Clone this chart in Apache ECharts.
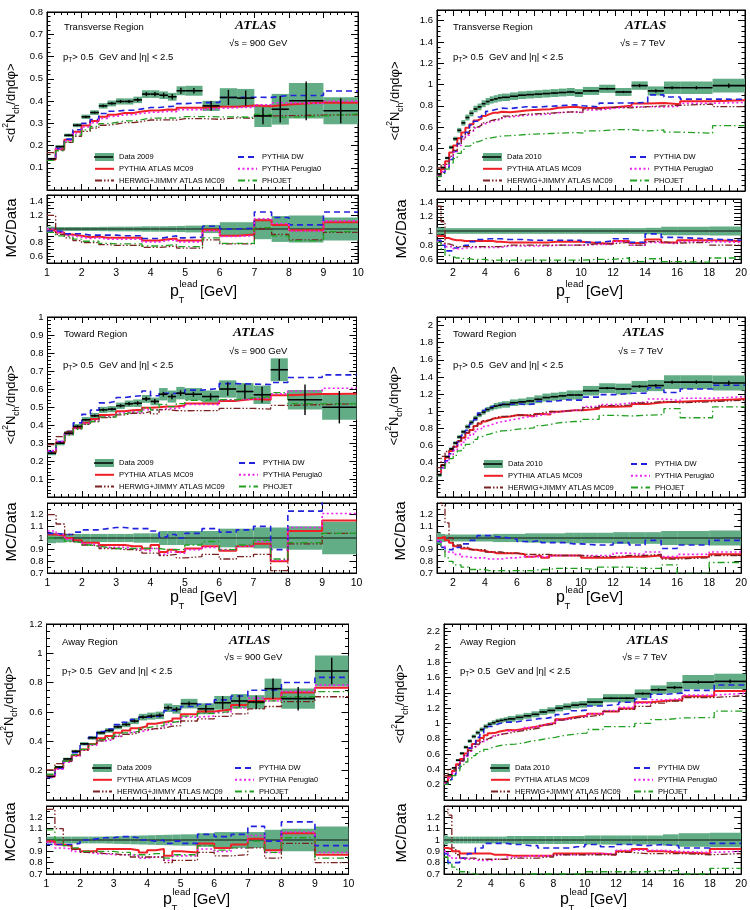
<!DOCTYPE html>
<html>
<head>
<meta charset="utf-8">
<script src="https://cdn.jsdelivr.net/npm/echarts@6/dist/echarts.min.js"></script>
<style>
  html, body { margin: 0; padding: 0; background: #fff; }
  #chart { width: 750px; height: 910px; }
</style>
</head>
<body>
<div id="chart"></div>
<script>
// bin edges (pT lead, GeV)
const edges900 = [1, 1.25, 1.5, 1.75, 2, 2.25, 2.5, 2.75, 3, 3.25, 3.5, 3.75, 4, 4.25, 4.5, 4.75, 5, 5.5, 6, 6.5, 7, 7.5, 8, 9, 10]
const edges7 = [1, 1.25, 1.5, 1.75, 2, 2.25, 2.5, 2.75, 3, 3.25, 3.5, 3.75, 4, 4.25, 4.5, 4.75, 5,
  5.5, 6, 6.5, 7, 7.5, 8, 8.5, 9, 9.5, 10, 11, 12, 13, 14, 15, 16, 18, 20]

// ---- Transverse, 900 GeV ----
const tr900Data = [0.14, 0.195, 0.246, 0.291, 0.329, 0.348, 0.378, 0.389, 0.398, 0.398, 0.405, 0.431, 0.431, 0.426, 0.419, 0.446, 0.446, 0.378, 0.416, 0.413, 0.333, 0.363, 0.401, 0.356]
const tr900Syst = [0.035, 0.03, 0.03, 0.03, 0.03, 0.03, 0.032, 0.034, 0.035, 0.035, 0.036, 0.04, 0.04, 0.04, 0.042, 0.045, 0.05, 0.06, 0.1, 0.1, 0.15, 0.19, 0.2, 0.17]
const tr900Stat = [0.003, 0.003, 0.004, 0.004, 0.005, 0.005, 0.006, 0.006, 0.007, 0.007, 0.008, 0.009, 0.01, 0.011, 0.012, 0.013, 0.012, 0.022, 0.034, 0.034, 0.038, 0.06, 0.087, 0.056]
const tr900MC09 = [0.98, 0.95, 0.92, 0.9, 0.88, 0.89, 0.87, 0.87, 0.87, 0.87, 0.87, 0.83, 0.83, 0.85, 0.86, 0.83, 0.83, 0.99, 0.9, 0.92, 1.13, 1.06, 0.98, 1.1]
const tr900DW = [0.97, 0.96, 0.93, 0.93, 0.91, 0.91, 0.91, 0.91, 0.9, 0.9, 0.9, 0.86, 0.86, 0.88, 0.9, 0.87, 0.88, 1.04, 1.0, 1.01, 1.25, 1.17, 1.06, 1.25]
const tr900Per0 = [1.0, 0.95, 0.9, 0.88, 0.86, 0.87, 0.85, 0.85, 0.85, 0.85, 0.85, 0.81, 0.81, 0.83, 0.84, 0.81, 0.81, 0.97, 0.89, 0.9, 1.15, 1.08, 0.97, 1.12]
const tr900Herwig = [1.2, 0.92, 0.87, 0.83, 0.8, 0.8, 0.77, 0.76, 0.76, 0.76, 0.76, 0.73, 0.73, 0.74, 0.75, 0.72, 0.72, 0.84, 0.78, 0.78, 1.0, 0.92, 0.84, 0.95]
const tr900Phojet = [0.95, 0.9, 0.88, 0.85, 0.82, 0.82, 0.79, 0.78, 0.78, 0.78, 0.78, 0.75, 0.75, 0.76, 0.77, 0.74, 0.74, 0.87, 0.79, 0.79, 1.02, 0.9, 0.83, 0.96]

// ---- Transverse, 7 TeV ----
const tr7Data = [0.16, 0.22, 0.31, 0.41, 0.49, 0.57, 0.64, 0.69, 0.73, 0.77, 0.79, 0.82, 0.84, 0.855, 0.865, 0.875,
  0.88, 0.89, 0.9, 0.905, 0.91, 0.915, 0.92, 0.925, 0.93, 0.92, 0.94, 0.96, 0.93, 0.99, 0.94, 0.97, 0.97, 0.99]
const tr7Syst = [0.05, 0.045, 0.04, 0.04, 0.04, 0.04, 0.04, 0.04, 0.04, 0.04, 0.04, 0.04, 0.04, 0.04, 0.04, 0.04,
  0.04, 0.04, 0.04, 0.04, 0.04, 0.04, 0.04, 0.04, 0.04, 0.04, 0.04, 0.04, 0.04, 0.04, 0.045, 0.06, 0.06, 0.065]
const tr7Stat = [0.002, 0.002, 0.002, 0.002, 0.002, 0.002, 0.002, 0.002, 0.002, 0.002, 0.002, 0.002, 0.002, 0.002, 0.002, 0.002,
  0.003, 0.003, 0.003, 0.003, 0.003, 0.004, 0.004, 0.004, 0.005, 0.005, 0.006, 0.01, 0.01, 0.015, 0.015, 0.015, 0.015, 0.02]
const tr7MC09 = [0.93, 0.93, 0.9, 0.88, 0.87, 0.87, 0.86, 0.86, 0.86, 0.86, 0.86, 0.86, 0.86, 0.86, 0.85, 0.85,
  0.84, 0.84, 0.84, 0.84, 0.84, 0.84, 0.85, 0.85, 0.85, 0.85, 0.83, 0.82, 0.86, 0.83, 0.88, 0.84, 0.87, 0.86]
const tr7DW = [0.87, 0.8, 0.72, 0.72, 0.76, 0.78, 0.8, 0.8, 0.85, 0.85, 0.88, 0.88, 0.89, 0.89, 0.89, 0.89,
  0.88, 0.88, 0.88, 0.87, 0.87, 0.87, 0.87, 0.87, 0.87, 0.87, 0.84, 0.86, 0.89, 0.84, 0.96, 0.91, 0.89, 0.87]
const tr7Per0 = [0.85, 0.82, 0.78, 0.78, 0.75, 0.75, 0.76, 0.76, 0.77, 0.77, 0.77, 0.77, 0.77, 0.77, 0.77, 0.77,
  0.79, 0.79, 0.79, 0.79, 0.79, 0.79, 0.8, 0.8, 0.8, 0.8, 0.81, 0.81, 0.85, 0.8, 0.84, 0.82, 0.85, 0.84]
const tr7Herwig = [1.35, 1.13, 0.82, 0.8, 0.78, 0.78, 0.78, 0.78, 0.78, 0.78, 0.78, 0.78, 0.78, 0.78, 0.78, 0.78,
  0.8, 0.8, 0.8, 0.8, 0.8, 0.8, 0.8, 0.8, 0.8, 0.8, 0.82, 0.82, 0.84, 0.8, 0.85, 0.83, 0.84, 0.8]
const tr7Phojet = [0.84, 0.75, 0.66, 0.64, 0.62, 0.62, 0.61, 0.61, 0.6, 0.6, 0.6, 0.6, 0.59, 0.59, 0.59, 0.59,
  0.59, 0.59, 0.59, 0.59, 0.59, 0.59, 0.59, 0.59, 0.59, 0.59, 0.6, 0.6, 0.62, 0.57, 0.61, 0.57, 0.56, 0.62]

// ---- Toward, 900 GeV ----
const tw900Data = [0.243, 0.299, 0.354, 0.392, 0.429, 0.451, 0.484, 0.488, 0.507, 0.518, 0.521, 0.545, 0.531, 0.571, 0.558, 0.577, 0.571, 0.558, 0.6, 0.586, 0.568, 0.707, 0.54, 0.499]
const tw900Syst = [0.045, 0.04, 0.035, 0.035, 0.035, 0.035, 0.035, 0.035, 0.035, 0.035, 0.04, 0.04, 0.04, 0.06, 0.06, 0.06, 0.06, 0.06, 0.08, 0.08, 0.09, 0.09, 0.1, 0.14]
const tw900Stat = [0.004, 0.004, 0.005, 0.006, 0.006, 0.007, 0.008, 0.008, 0.009, 0.01, 0.011, 0.012, 0.013, 0.013, 0.015, 0.016, 0.014, 0.018, 0.037, 0.04, 0.045, 0.06, 0.085, 0.09]
const tw900MC09 = [1.03, 1.02, 1.0, 0.98, 0.96, 0.96, 0.94, 0.94, 0.94, 0.93, 0.93, 0.91, 0.94, 0.88, 0.9, 0.88, 0.91, 0.93, 0.89, 0.93, 0.95, 0.8, 1.06, 1.15]
const tw900DW = [1.04, 1.03, 1.03, 1.05, 1.07, 1.07, 1.08, 1.09, 1.09, 1.08, 1.08, 1.08, 1.06, 1.01, 1.03, 1.0, 1.04, 1.08, 1.05, 1.07, 1.1, 0.9, 1.23, 1.36]
const tw900Per0 = [1.06, 1.03, 0.99, 0.97, 0.95, 0.94, 0.92, 0.92, 0.92, 0.91, 0.9, 0.89, 0.91, 0.86, 0.88, 0.87, 0.9, 0.92, 0.9, 0.93, 0.97, 0.81, 1.09, 1.21]
const tw900Herwig = [1.2, 1.12, 1.03, 0.97, 0.94, 0.93, 0.91, 0.91, 0.9, 0.9, 0.89, 0.87, 0.87, 0.85, 0.86, 0.83, 0.84, 0.86, 0.82, 0.84, 0.86, 0.72, 0.95, 1.04]
const tw900Phojet = [1.0, 0.99, 0.97, 0.96, 0.94, 0.93, 0.92, 0.91, 0.91, 0.91, 0.91, 0.91, 0.91, 0.9, 0.9, 0.9, 0.94, 0.97, 0.9, 0.94, 0.98, 0.82, 0.96, 1.04]

// ---- Toward, 7 TeV ----
const tw7Data = [0.26, 0.37, 0.47, 0.56, 0.63, 0.7, 0.76, 0.82, 0.87, 0.92, 0.96, 0.99, 1.02, 1.04, 1.06, 1.07,
  1.08, 1.1, 1.11, 1.12, 1.14, 1.16, 1.17, 1.18, 1.19, 1.19, 1.24, 1.27, 1.26, 1.29, 1.3, 1.34, 1.34, 1.33]
const tw7Syst = [0.045, 0.035, 0.03, 0.03, 0.03, 0.03, 0.03, 0.03, 0.03, 0.03, 0.03, 0.03, 0.03, 0.03, 0.035, 0.035,
  0.035, 0.035, 0.035, 0.04, 0.04, 0.04, 0.04, 0.04, 0.045, 0.045, 0.045, 0.045, 0.05, 0.05, 0.05, 0.06, 0.06, 0.065]
const tw7Stat = [0.003, 0.003, 0.003, 0.003, 0.003, 0.003, 0.003, 0.003, 0.003, 0.003, 0.003, 0.003, 0.003, 0.003, 0.003, 0.003,
  0.004, 0.004, 0.004, 0.004, 0.005, 0.005, 0.005, 0.006, 0.006, 0.006, 0.008, 0.012, 0.012, 0.015, 0.018, 0.02, 0.02, 0.025]
const tw7MC09 = [1.0, 1.01, 0.98, 0.96, 0.93, 0.93, 0.91, 0.91, 0.9, 0.9, 0.89, 0.89, 0.88, 0.88, 0.87, 0.87,
  0.87, 0.87, 0.86, 0.84, 0.85, 0.83, 0.85, 0.85, 0.85, 0.85, 0.83, 0.83, 0.84, 0.84, 0.85, 0.83, 0.84, 0.86]
const tw7DW = [0.97, 0.92, 0.9, 0.9, 0.92, 0.92, 0.95, 0.95, 0.98, 0.98, 1.02, 1.02, 1.02, 1.02, 1.01, 1.01,
  1.0, 0.99, 0.97, 0.97, 0.98, 0.96, 0.96, 0.96, 0.95, 0.95, 0.94, 0.94, 0.96, 0.94, 0.98, 0.91, 0.94, 0.98]
const tw7Per0 = [0.98, 0.93, 0.88, 0.88, 0.86, 0.86, 0.84, 0.84, 0.83, 0.83, 0.83, 0.83, 0.82, 0.82, 0.82, 0.82,
  0.83, 0.83, 0.84, 0.84, 0.84, 0.84, 0.85, 0.85, 0.85, 0.85, 0.85, 0.85, 0.87, 0.86, 0.88, 0.84, 0.86, 0.88]
const tw7Herwig = [1.32, 1.28, 1.13, 1.0, 0.94, 0.94, 0.92, 0.92, 0.9, 0.9, 0.9, 0.9, 0.88, 0.88, 0.88, 0.88,
  0.87, 0.87, 0.86, 0.86, 0.86, 0.86, 0.85, 0.85, 0.85, 0.85, 0.84, 0.84, 0.85, 0.85, 0.86, 0.82, 0.83, 0.85]
const tw7Phojet = [0.95, 0.9, 0.83, 0.8, 0.77, 0.77, 0.75, 0.75, 0.73, 0.73, 0.73, 0.73, 0.72, 0.72, 0.72, 0.72,
  0.72, 0.72, 0.72, 0.72, 0.73, 0.73, 0.74, 0.74, 0.74, 0.74, 0.73, 0.75, 0.75, 0.74, 0.74, 0.77, 0.69, 0.79]

// ---- Away, 900 GeV ----
const aw900Data = [0.161, 0.225, 0.28, 0.332, 0.383, 0.424, 0.458, 0.474, 0.499, 0.515, 0.538, 0.565, 0.572, 0.577, 0.629, 0.618, 0.657, 0.622, 0.663, 0.675, 0.668, 0.759, 0.691, 0.88]
const aw900Syst = [0.03, 0.03, 0.03, 0.03, 0.03, 0.03, 0.03, 0.032, 0.034, 0.036, 0.038, 0.04, 0.042, 0.044, 0.046, 0.048, 0.05, 0.06, 0.07, 0.07, 0.07, 0.09, 0.1, 0.12]
const aw900Stat = [0.003, 0.003, 0.004, 0.005, 0.005, 0.006, 0.007, 0.008, 0.008, 0.009, 0.01, 0.011, 0.012, 0.013, 0.014, 0.015, 0.015, 0.025, 0.045, 0.04, 0.045, 0.07, 0.08, 0.09]
const aw900MC09 = [0.99, 0.96, 0.95, 0.92, 0.9, 0.9, 0.92, 0.92, 0.92, 0.92, 0.91, 0.89, 0.91, 0.92, 0.86, 0.9, 0.89, 0.97, 0.93, 0.96, 1.01, 0.91, 1.06, 0.87]
const aw900DW = [0.96, 0.96, 0.96, 0.97, 1.0, 1.01, 1.02, 1.02, 1.03, 1.03, 1.02, 1.0, 0.99, 1.0, 0.97, 0.99, 0.97, 1.05, 1.03, 1.05, 1.12, 0.99, 1.16, 0.95]
const aw900Per0 = [0.98, 0.93, 0.92, 0.9, 0.89, 0.88, 0.88, 0.87, 0.87, 0.87, 0.86, 0.84, 0.85, 0.85, 0.82, 0.86, 0.86, 0.92, 0.9, 0.93, 1.04, 0.89, 1.07, 0.89]
const aw900Herwig = [1.27, 1.1, 0.95, 0.92, 0.89, 0.89, 0.88, 0.88, 0.87, 0.87, 0.85, 0.85, 0.85, 0.85, 0.8, 0.82, 0.82, 0.89, 0.86, 0.87, 0.93, 0.84, 0.97, 0.8]
const aw900Phojet = [1.09, 1.0, 0.95, 0.93, 0.9, 0.9, 0.9, 0.9, 0.89, 0.89, 0.87, 0.87, 0.88, 0.88, 0.84, 0.87, 0.87, 0.95, 0.91, 0.93, 0.99, 0.89, 1.02, 0.84]

// ---- Away, 7 TeV ----
const aw7Data = [0.24, 0.33, 0.42, 0.52, 0.61, 0.69, 0.77, 0.83, 0.88, 0.92, 0.96, 0.99, 1.01, 1.03, 1.04, 1.05,
  1.06, 1.08, 1.1, 1.12, 1.15, 1.17, 1.2, 1.22, 1.24, 1.25, 1.28, 1.33, 1.33, 1.39, 1.44, 1.47, 1.54, 1.55]
const aw7Syst = [0.04, 0.03, 0.03, 0.03, 0.03, 0.03, 0.03, 0.03, 0.03, 0.03, 0.03, 0.03, 0.03, 0.03, 0.03, 0.03,
  0.035, 0.035, 0.035, 0.035, 0.035, 0.035, 0.035, 0.035, 0.035, 0.035, 0.04, 0.04, 0.04, 0.04, 0.04, 0.05, 0.06, 0.065]
const aw7Stat = [0.003, 0.003, 0.003, 0.003, 0.003, 0.003, 0.003, 0.003, 0.003, 0.003, 0.003, 0.003, 0.003, 0.003, 0.003, 0.003,
  0.004, 0.004, 0.004, 0.004, 0.005, 0.005, 0.005, 0.006, 0.006, 0.006, 0.008, 0.012, 0.012, 0.015, 0.018, 0.02, 0.02, 0.025]
const aw7MC09 = [0.93, 0.92, 0.9, 0.9, 0.88, 0.88, 0.88, 0.88, 0.88, 0.88, 0.88, 0.88, 0.87, 0.87, 0.87, 0.87,
  0.86, 0.86, 0.86, 0.86, 0.86, 0.86, 0.88, 0.88, 0.88, 0.88, 0.88, 0.87, 0.9, 0.92, 0.9, 0.89, 0.88, 0.92]
const aw7DW = [0.88, 0.8, 0.8, 0.8, 0.84, 0.84, 0.88, 0.88, 0.93, 0.93, 0.97, 0.97, 0.97, 0.97, 0.97, 0.97,
  0.96, 0.96, 0.95, 0.95, 0.93, 0.93, 0.93, 0.93, 0.94, 0.94, 0.96, 0.94, 0.96, 0.95, 0.96, 0.95, 0.93, 0.97]
const aw7Per0 = [0.9, 0.86, 0.84, 0.84, 0.83, 0.83, 0.83, 0.83, 0.82, 0.82, 0.82, 0.82, 0.83, 0.83, 0.83, 0.83,
  0.85, 0.85, 0.86, 0.86, 0.86, 0.86, 0.87, 0.87, 0.87, 0.87, 0.88, 0.88, 0.91, 0.91, 0.91, 0.9, 0.89, 0.9]
const aw7Herwig = [1.32, 1.22, 0.93, 0.87, 0.84, 0.84, 0.84, 0.84, 0.83, 0.83, 0.83, 0.83, 0.83, 0.83, 0.83, 0.83,
  0.84, 0.84, 0.84, 0.84, 0.85, 0.85, 0.87, 0.87, 0.87, 0.87, 0.87, 0.87, 0.89, 0.88, 0.88, 0.88, 0.87, 0.88]
const aw7Phojet = [0.85, 0.79, 0.76, 0.74, 0.72, 0.72, 0.71, 0.7, 0.69, 0.69, 0.69, 0.69, 0.69, 0.69, 0.69, 0.69,
  0.69, 0.69, 0.7, 0.7, 0.7, 0.7, 0.7, 0.7, 0.7, 0.7, 0.72, 0.72, 0.72, 0.72, 0.73, 0.73, 0.7, 0.75]

const mcNames = ['PYTHIA ATLAS MC09', 'PYTHIA DW', 'PYTHIA Perugia0', 'HERWIG+JIMMY ATLAS MC09', 'PHOJET']
const mcStyles = [
  { color: '#ee1f26', width: 2, type: 'solid' },
  { color: '#2222dd', width: 1.6, type: [6, 4] },
  { color: '#ee22ee', width: 1.6, type: [2, 2.5] },
  { color: '#7a2222', width: 1.3, type: [7, 2, 1.5, 2, 1.5, 2] },
  { color: '#22a022', width: 1.3, type: [7, 3, 1.5, 3] },
]

const FONT = '"Liberation Sans", Arial, sans-serif'
const GREEN = '#62ad86'

const panels = [
  {
    region: 'Transverse Region', energy: '900 GeV', dataName: 'Data 2009', edges: edges900,
    data: tr900Data, syst: tr900Syst, stat: tr900Stat,
    ratios: [tr900MC09, tr900DW, tr900Per0, tr900Herwig, tr900Phojet],
    main: { left: 47, top: 12, width: 311, height: 178 }, ratio: { left: 47, top: 195, width: 311, height: 68 },
    xmax: 10, ymax: 0.8, yint: 0.1, ylabMax: 0.8, yminor: 5,
    rmin: 0.5, rmax: 1.5, rint: 0.1, rstep: 0.2, rlab: [0.6, 1.4],
    txt: { region: [64, 27], atlas: [235, 26], rs: [229, 43], cut: [63, 57], ytitle: [11, 103], rtitle: [12, 228], xtitle: [170, 292] },
    leg: { top: 147, left: 89, right: 232 },
  },
  {
    region: 'Transverse Region', energy: '7 TeV', dataName: 'Data 2010', edges: edges7,
    data: tr7Data, syst: tr7Syst, stat: tr7Stat,
    ratios: [tr7MC09, tr7DW, tr7Per0, tr7Herwig, tr7Phojet],
    main: { left: 437, top: 10, width: 308, height: 181 }, ratio: { left: 437, top: 199, width: 308, height: 64 },
    xmax: 20, ymax: 1.7, yint: 0.2, ylabMax: 1.6, yminor: 4,
    rmin: 0.55, rmax: 1.45, rint: 0.05, rstep: 0.2, rlab: [0.6, 1.4],
    txt: { region: [453, 27], atlas: [625, 26], rs: [620, 43], cut: [453, 57], ytitle: [395, 101], rtitle: [402, 229], xtitle: [556, 292] },
    leg: { top: 147, left: 477, right: 624 },
  },
  {
    region: 'Toward Region', energy: '900 GeV', dataName: 'Data 2009', edges: edges900,
    data: tw900Data, syst: tw900Syst, stat: tw900Stat,
    ratios: [tw900MC09, tw900DW, tw900Per0, tw900Herwig, tw900Phojet],
    main: { left: 47.5, top: 317, width: 309, height: 180 }, ratio: { left: 47.5, top: 503, width: 309, height: 70 },
    xmax: 10, ymax: 1, yint: 0.1, ylabMax: 1, yminor: 5,
    rmin: 0.7, rmax: 1.3, rint: 0.1, rstep: 0.1, rlab: [0.7, 1.2],
    txt: { region: [64, 334], atlas: [233, 333], rs: [229, 351], cut: [63, 365], ytitle: [11, 405], rtitle: [12, 532], xtitle: [170, 598] },
    leg: { top: 453, left: 89, right: 233 },
  },
  {
    region: 'Toward Region', energy: '7 TeV', dataName: 'Data 2010', edges: edges7,
    data: tw7Data, syst: tw7Syst, stat: tw7Stat,
    ratios: [tw7MC09, tw7DW, tw7Per0, tw7Herwig, tw7Phojet],
    main: { left: 437, top: 317, width: 308, height: 180 }, ratio: { left: 437, top: 503, width: 308, height: 70 },
    xmax: 20, ymax: 2.1, yint: 0.2, ylabMax: 2, yminor: 4,
    rmin: 0.7, rmax: 1.3, rint: 0.1, rstep: 0.1, rlab: [0.7, 1.2],
    txt: { region: [453, 334], atlas: [623, 333], rs: [618, 351], cut: [453, 365], ytitle: [394, 406], rtitle: [401, 531], xtitle: [556, 598] },
    leg: { top: 454, left: 478, right: 625 },
  },
  {
    region: 'Away Region', energy: '900 GeV', dataName: 'Data 2009', edges: edges900,
    data: aw900Data, syst: aw900Syst, stat: aw900Stat,
    ratios: [aw900MC09, aw900DW, aw900Per0, aw900Herwig, aw900Phojet],
    main: { left: 46.5, top: 624, width: 302, height: 176 }, ratio: { left: 46.5, top: 806, width: 302, height: 68 },
    xmax: 10, ymax: 1.2, yint: 0.2, ylabMax: 1.2, yminor: 4,
    rmin: 0.7, rmax: 1.3, rint: 0.1, rstep: 0.1, rlab: [0.7, 1.2],
    txt: { region: [62, 642], atlas: [229, 641], rs: [224, 657], cut: [62, 671], ytitle: [9, 706], rtitle: [11, 832], xtitle: [163, 900] },
    leg: { top: 758, left: 87, right: 229 },
  },
  {
    region: 'Away Region', energy: '7 TeV', dataName: 'Data 2010', edges: edges7,
    data: aw7Data, syst: aw7Syst, stat: aw7Stat,
    ratios: [aw7MC09, aw7DW, aw7Per0, aw7Herwig, aw7Phojet],
    main: { left: 444, top: 624, width: 302, height: 176 }, ratio: { left: 444, top: 806, width: 302, height: 68 },
    xmax: 20, ymax: 2.3, yint: 0.2, ylabMax: 2.2, yminor: 4,
    rmin: 0.7, rmax: 1.3, rint: 0.1, rstep: 0.1, rlab: [0.7, 1.2],
    txt: { region: [460, 642], atlas: [627, 641], rs: [622, 657], cut: [460, 671], ytitle: [400, 704], rtitle: [402, 833], xtitle: [560, 900] },
    leg: { top: 758, left: 485, right: 628 },
  },
]

const fmt = (v) => String(parseFloat(v.toFixed(2)))

function stepData(edges, vals) {
  const pts = vals.map((v, i) => [edges[i], v])
  pts.push([edges[edges.length - 1], vals[vals.length - 1]])
  return pts
}

function renderBox(params, api) {
  const a = api.coord([api.value(0), api.value(2) + api.value(3)])
  const b = api.coord([api.value(1), api.value(2) - api.value(3)])
  return {
    type: 'rect',
    shape: { x: a[0], y: a[1], width: b[0] - a[0], height: b[1] - a[1] },
    style: { fill: GREEN },
  }
}

function renderMark(params, api) {
  const lo = api.value(0), hi = api.value(1), y = api.value(2), s = api.value(3)
  const a = api.coord([lo, y]), b = api.coord([hi, y])
  const t = api.coord([(lo + hi) / 2, y + s]), u = api.coord([(lo + hi) / 2, y - s])
  return {
    type: 'group',
    children: [
      { type: 'line', shape: { x1: a[0], y1: a[1], x2: b[0], y2: b[1] }, style: { stroke: '#000', lineWidth: 1.6 } },
      { type: 'line', shape: { x1: t[0], y1: t[1], x2: u[0], y2: u[1] }, style: { stroke: '#000', lineWidth: 1.4 } },
    ],
  }
}

function xAxisDef(p, g, pos, labels) {
  const is7 = p.xmax === 20
  return {
    type: 'value', gridIndex: g, position: pos, min: 1, max: p.xmax, interval: 1,
    axisLine: { show: true, onZero: false, lineStyle: { color: '#000', width: 1 } },
    splitLine: { show: false },
    axisTick: { show: true, inside: true, length: 6, lineStyle: { color: '#000' } },
    minorTick: { show: true, splitNumber: is7 ? 2 : 5, length: 3, lineStyle: { color: '#000' } },
    axisLabel: {
      show: labels, color: '#000', fontSize: 10.5, fontFamily: FONT, margin: 5,
      formatter: (v) => (is7 && v % 2 ? '' : String(v)),
    },
  }
}

function yAxisDef(g, pos, min, max, interval, minor, labels, formatter) {
  return {
    type: 'value', gridIndex: g, position: pos, min, max, interval,
    axisLine: { show: true, onZero: false, lineStyle: { color: '#000', width: 1 } },
    splitLine: { show: false },
    axisTick: { show: true, inside: true, length: 7, lineStyle: { color: '#000' } },
    minorTick: { show: minor > 0, splitNumber: minor || 1, length: 3.5, lineStyle: { color: '#000' } },
    axisLabel: { show: labels, color: '#000', fontSize: 9.5, fontFamily: FONT, margin: 4, formatter },
  }
}

function txt(x, y, text, size, extra) {
  return {
    type: 'text', x, y, silent: true,
    style: Object.assign({ text, fontSize: size, fontFamily: FONT, fill: '#000', verticalAlign: 'middle', align: 'left' }, extra || {}),
  }
}

const option = {
  animation: false,
  backgroundColor: '#fff',
  grid: [], xAxis: [], yAxis: [], series: [], legend: [], graphic: [],
}

panels.forEach((p, k) => {
  const gm = 2 * k, gr = 2 * k + 1
  const ax = 4 * k
  option.grid.push(Object.assign({ show: true, borderColor: '#000', borderWidth: 1, backgroundColor: 'transparent' }, p.main))
  option.grid.push(Object.assign({ show: true, borderColor: '#000', borderWidth: 1, backgroundColor: 'transparent' }, p.ratio))

  option.xAxis.push(xAxisDef(p, gm, 'bottom', false), xAxisDef(p, gm, 'top', false))
  option.xAxis.push(xAxisDef(p, gr, 'bottom', true), xAxisDef(p, gr, 'top', false))

  const mainFmt = (v) => (v < 1e-9 || v > p.ylabMax + 1e-9 ? '' : fmt(v))
  const ratioFmt = (v) => {
    if (v < p.rlab[0] - 1e-9 || v > p.rlab[1] + 1e-9) return ''
    const q = v / p.rstep
    return Math.abs(q - Math.round(q)) < 1e-6 ? fmt(v) : ''
  }
  const rminor = p.rint < 0.1 ? 0 : 2
  option.yAxis.push(
    yAxisDef(gm, 'left', 0, p.ymax, p.yint, p.yminor, true, mainFmt),
    yAxisDef(gm, 'right', 0, p.ymax, p.yint, p.yminor, false),
    yAxisDef(gr, 'left', p.rmin, p.rmax, p.rint, rminor, true, ratioFmt),
    yAxisDef(gr, 'right', p.rmin, p.rmax, p.rint, rminor, false)
  )

  const last = p.edges[p.edges.length - 1]
  const boxes = p.data.map((y, i) => [p.edges[i], p.edges[i + 1], y, y * p.syst[i]])
  const marks = p.data.map((y, i) => [p.edges[i], p.edges[i + 1], y, p.stat[i]])
  const rboxes = p.data.map((y, i) => [p.edges[i], p.edges[i + 1], 1, p.syst[i]])

  // main pad
  option.series.push({
    type: 'custom', name: p.dataName, xAxisIndex: ax, yAxisIndex: ax, clip: true, z: 1,
    renderItem: renderBox, data: boxes, encode: { x: [0, 1], y: 2 }, itemStyle: { color: GREEN },
  })
  p.ratios.forEach((r, m) => {
    const st = mcStyles[m]
    option.series.push({
      type: 'line', name: mcNames[m], xAxisIndex: ax, yAxisIndex: ax, step: 'end', symbol: 'none', z: 3,
      clip: true, silent: true,
      data: stepData(p.edges, p.data.map((y, i) => y * r[i])),
      lineStyle: { color: st.color, width: st.width, type: st.type }, itemStyle: { color: st.color },
    })
  })
  option.series.push({
    type: 'custom', name: p.dataName, xAxisIndex: ax, yAxisIndex: ax, clip: true, z: 5,
    renderItem: renderMark, data: marks, encode: { x: [0, 1], y: 2 }, itemStyle: { color: GREEN },
  })

  // ratio pad
  option.series.push({
    type: 'custom', name: 'band', xAxisIndex: ax + 2, yAxisIndex: ax + 2, clip: true, z: 1,
    renderItem: renderBox, data: rboxes, encode: { x: [0, 1], y: 2 },
  })
  option.series.push({
    type: 'line', name: 'unity', xAxisIndex: ax + 2, yAxisIndex: ax + 2, symbol: 'none', z: 2, silent: true,
    data: [[1, 1], [last, 1]], lineStyle: { color: '#111', width: 1 },
  })
  p.ratios.forEach((r, m) => {
    const st = mcStyles[m]
    option.series.push({
      type: 'line', name: mcNames[m], xAxisIndex: ax + 2, yAxisIndex: ax + 2, step: 'end', symbol: 'none', z: 3,
      clip: true, silent: true,
      data: stepData(p.edges, r),
      lineStyle: { color: st.color, width: st.width, type: st.type },
    })
  })

  // legends (two columns) + a thin black bar drawn over the data icon
  const legBase = {
    orient: 'vertical', top: p.leg.top, itemWidth: 19, itemHeight: 8, itemGap: 1.8, selectedMode: false,
    textStyle: { fontSize: 7.5, fontFamily: FONT, color: '#000', lineHeight: 10 },
  }
  const noSym = { opacity: 0 }
  option.legend.push(Object.assign({}, legBase, {
    left: p.leg.left,
    data: [
      { name: p.dataName, icon: 'rect', itemStyle: { color: GREEN } },
      { name: mcNames[0], itemStyle: noSym },
      { name: mcNames[3], itemStyle: noSym },
    ],
  }))
  option.legend.push(Object.assign({}, legBase, {
    left: p.leg.left, z: 5,
    textStyle: { fontSize: 7.5, fontFamily: FONT, color: 'rgba(0,0,0,0)', lineHeight: 10 },
    data: [{ name: p.dataName, icon: 'path://M0,0h20v1.6h-20z', itemStyle: { color: '#000' } }],
  }))
  option.legend.push(Object.assign({}, legBase, {
    left: p.leg.right,
    data: [
      { name: mcNames[1], itemStyle: noSym },
      { name: mcNames[2], itemStyle: noSym },
      { name: mcNames[4], itemStyle: noSym },
    ],
  }))

  // texts
  const T = p.txt
  option.graphic.push(
    txt(T.region[0], T.region[1], p.region, 9.5),
    txt(T.atlas[0], T.atlas[1], 'ATLAS', 13.5, { fontFamily: '"Liberation Serif", "DejaVu Serif", serif', fontWeight: 'bold', fontStyle: 'italic' }),
    txt(T.rs[0], T.rs[1], '√s = ' + p.energy, 9.5),
    txt(T.cut[0], T.cut[1], '{a|p}{b|T}{a|> 0.5  GeV and |η| < 2.5}', 9.5, {
      rich: {
        a: { fontSize: 9.5, fontFamily: FONT, fill: '#000', lineHeight: 14 },
        b: { fontSize: 6.5, fontFamily: FONT, fill: '#000', lineHeight: 7, verticalAlign: 'bottom' },
      },
    }),
    Object.assign(txt(T.ytitle[0], T.ytitle[1], '{a|<d}{s|2}{a|N}{b|ch}{a|/dηdφ>}', 13, {
      align: 'center',
      rich: {
        a: { fontSize: 13, fontFamily: FONT, fill: '#000', lineHeight: 20 },
        s: { fontSize: 8.5, fontFamily: FONT, fill: '#000', lineHeight: 9, verticalAlign: 'top' },
        b: { fontSize: 8.5, fontFamily: FONT, fill: '#000', lineHeight: 9, verticalAlign: 'bottom' },
      },
    }), { rotation: Math.PI / 2 }),
    Object.assign(txt(T.rtitle[0], T.rtitle[1], 'MC/Data', 15, { align: 'center' }), { rotation: Math.PI / 2 }),
    txt(T.xtitle[0], T.xtitle[1], 'p', 16),
    txt(T.xtitle[0] + 9.5, T.xtitle[1] - 8, 'lead', 9.5),
    txt(T.xtitle[0] + 8.5, T.xtitle[1] + 8, 'T', 9.5),
    txt(T.xtitle[0] + 30, T.xtitle[1], '[GeV]', 14.5)
  )
})

const chart = echarts.init(document.getElementById('chart'), null, { renderer: 'canvas' })
chart.setOption(option)
window.addEventListener('resize', () => chart.resize())
</script>
</body>
</html>
